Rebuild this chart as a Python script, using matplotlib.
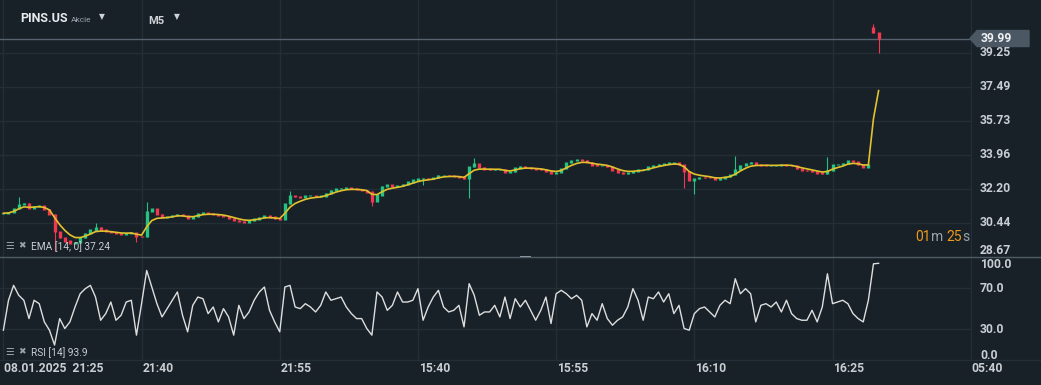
import numpy as np
import pandas as pd
import matplotlib
matplotlib.use("Agg")
import matplotlib.pyplot as plt
from matplotlib.patches import Polygon, Rectangle

W, H = 1041, 385
BG = "#182128"
GRID = "#242e37"
TXT = "#c9ced3"
UP = "#26c281"
DOWN = "#f0384f"
EMA_COL = "#e2c22c"
ORANGE = "#ee9a1c"

plt.rcParams['font.family'] = ['Roboto', 'DejaVu Sans']

# close prices of the candles
closes = [
    30.94, 30.98, 31.18, 31.41, 31.46, 31.21, 31.27, 31.33, 31.15, 30.88,
    29.98, 29.66, 29.50, 29.39, 29.42, 29.67, 29.89, 30.07, 30.21, 30.07,
    30.00, 29.94, 29.89, 29.85, 29.89, 29.93, 29.73, 29.72, 31.03, 31.16,
    30.89, 30.73, 30.75, 30.83, 30.89, 30.80, 30.69, 30.75, 30.92, 30.96,
    30.92, 30.89, 30.84, 30.79, 30.68, 30.58, 30.52, 30.48, 30.54, 30.64,
    30.72, 30.81, 30.74, 30.65, 30.62, 31.43, 31.85, 31.80, 31.77, 31.84,
    31.84, 31.82, 31.83, 31.98, 32.12, 32.20, 32.24, 32.25, 32.21, 32.17,
    32.12, 32.04, 31.55, 31.88, 32.33, 32.41, 32.35, 32.36, 32.43, 32.56,
    32.66, 32.73, 32.74, 32.73, 32.77, 32.90, 32.91, 32.88, 32.86, 32.82,
    32.72, 33.35, 33.50, 33.33, 33.23, 33.20, 33.21, 33.22, 33.05, 33.08,
    33.28, 33.37, 33.33, 33.27, 33.23, 33.19, 33.11, 33.02, 33.05, 33.25,
    33.55, 33.65, 33.70, 33.68, 33.58, 33.44, 33.40, 33.40, 33.35, 33.18,
    33.05, 32.99, 33.03, 33.12, 33.19, 33.19, 33.35, 33.43, 33.47, 33.51,
    33.54, 33.55, 33.45, 33.10, 32.65, 32.72, 32.80, 32.79, 32.77, 32.67,
    32.75, 32.84, 32.93, 33.20, 33.43, 33.53, 33.57, 33.48, 33.44, 33.42,
    33.42, 33.42, 33.44, 33.43, 33.40, 33.25, 33.17, 33.14, 33.08, 33.02,
    32.98, 33.15, 33.45, 33.46, 33.52, 33.67, 33.60, 33.46, 33.32, 33.45,
    40.30, 39.99,
]
gap_at = 170          # first candle after the overnight gap
gap_open = 40.55

# notable wicks
wick_high = {3: 31.77, 18: 30.45, 28: 31.50, 56: 32.10, 92: 33.80,
             143: 33.88, 161: 33.84, 170: 40.77}
wick_low = {10: 29.00, 26: 29.45, 72: 31.30, 82: 32.40, 91: 31.72,
            133: 32.23, 135: 31.96, 171: 39.25}

rsi = [
    29.3, 58.2, 72.6, 63.0, 58.2, 40.5, 58.2, 54.9, 37.3, 29.3,
    14.9, 40.5, 30.9, 37.3, 51.7, 64.5, 69.4, 72.6, 61.3, 38.9,
    45.3, 56.5, 38.9, 43.7, 56.5, 58.2, 24.5, 54.9, 87.0, 71.0,
    54.9, 42.1, 50.1, 58.2, 66.2, 43.7, 27.7, 53.3, 61.3, 59.7,
    45.3, 51.7, 37.3, 50.1, 42.1, 24.5, 53.3, 40.5, 46.9, 58.2,
    66.2, 71.0, 48.5, 37.3, 27.7, 71.0, 72.6, 51.7, 50.1, 54.9,
    51.7, 46.9, 53.3, 66.2, 58.2, 59.7, 61.3, 51.7, 45.3, 40.5,
    40.5, 30.9, 24.5, 66.2, 61.3, 48.5, 53.3, 66.2, 56.5, 56.5,
    58.2, 69.4, 38.9, 51.7, 61.3, 67.8, 51.7, 46.9, 48.5, 53.3,
    32.5, 74.2, 63.0, 43.7, 46.9, 46.9, 53.3, 42.1, 61.3, 40.5,
    59.7, 51.7, 58.2, 48.5, 38.9, 48.5, 61.3, 35.7, 64.5, 67.8,
    64.5, 59.7, 63.0, 58.2, 32.5, 45.3, 38.9, 54.9, 40.5, 34.1,
    38.9, 42.1, 51.7, 69.4, 58.2, 38.9, 61.3, 59.7, 66.2, 56.5,
    64.5, 45.3, 53.3, 30.9, 29.3, 45.3, 50.1, 51.7, 46.9, 42.1,
    53.3, 58.2, 54.9, 79.0, 64.5, 69.4, 64.5, 37.3, 53.3, 54.9,
    51.7, 56.5, 46.9, 58.2, 45.3, 40.5, 38.9, 38.9, 48.5, 37.3,
    51.7, 83.8, 54.9, 56.5, 58.2, 54.9, 45.3, 40.5, 37.3, 58.2,
    93.4, 93.9,
]

price_ticks = [39.25, 37.49, 35.73, 33.96, 32.20, 30.44, 28.67]
rsi_ticks = [100.0, 70.0, 30.0, 0.0]
time_labels = ["08.01.2025  21:25", "21:40", "21:55", "15:40",
               "15:55", "16:10", "16:25", "05:40"]
bars_per_label = 27
ema_text = "EMA [14, 0] 37.24"
rsi_text = "RSI [14] 93.9"

closes = np.array(closes)
idx = np.arange(len(closes))
opens = np.r_[closes[0], closes[:-1]]
opens[gap_at] = gap_open
ema = pd.Series(closes).ewm(alpha=0.35, adjust=False).mean()

fig = plt.figure(figsize=(W / 100, H / 100), dpi=100, facecolor=BG)


def fx(x):
    return x / W


def fy(y):
    return 1 - y / H


ax = fig.add_axes([0, fy(257), fx(972), 257 / H], facecolor=BG)
ax_rsi = fig.add_axes([0, fy(360.5), fx(972), (360.5 - 257) / H], facecolor=BG)

x_lo, x_hi = -0.66, 189.25
grid_x = [bars_per_label * k for k in range(len(time_labels))]

for a in (ax, ax_rsi):
    a.set_xlim(x_lo, x_hi)
    for s in a.spines.values():
        s.set_visible(False)
    a.set_xticks([])
    a.set_yticks([])
    for gx in grid_x:
        a.axvline(gx, color=GRID, lw=1, zorder=0)

ax.set_ylim(28.67, 41.99)
ax_rsi.set_ylim(0, 100)

for v in price_ticks[:-1]:
    ax.axhline(v, color=GRID, lw=1, zorder=0)
for v in rsi_ticks[1:-1]:
    ax_rsi.axhline(v, color=GRID, lw=1, zorder=0)

# candles
hi = np.maximum(opens, closes)
lo = np.minimum(opens, closes)
cols = [UP if c >= o else DOWN for o, c in zip(opens, closes)]
wh = hi.copy()
wl = lo.copy()
for k, v in wick_high.items():
    wh[k] = v
for k, v in wick_low.items():
    wl[k] = v
ax.vlines(idx, wl, wh, colors=cols, lw=0.8, zorder=2)
ax.vlines(idx, lo - 0.03, hi + 0.03, colors=cols, lw=2.4, zorder=2)
ax.plot(idx, ema, color=EMA_COL, lw=1.2, zorder=3)

# last price line
last = closes[-1]
ax.axhline(last, color="#56626d", lw=1, zorder=1)

ax_rsi.plot(np.arange(len(rsi)), rsi, color="#dedede", lw=1.0)

# panel separators
fig.add_artist(plt.Line2D([0, 1], [fy(257), fy(257)], color="#4e5a64", lw=1))
fig.add_artist(plt.Line2D([0, 1], [fy(359.5), fy(359.5)], color=GRID, lw=1))
fig.add_artist(Rectangle((fx(520), fy(258)), fx(11), 2 / H, color="#9aa3ab", lw=0))

# price labels
lab_kw = dict(color=TXT, fontsize=8.7, fontweight="bold", va="center", ha="left")
for v in price_ticks:
    y = 257 - (v - 28.67) * 19.30
    if v == price_ticks[-1]:
        y = 250.5
    fig.text(fx(980), fy(y), f"{v:.2f}", **lab_kw)

# last price tag
y_last = 257 - (last - 28.67) * 19.30
tag = Polygon([(fx(970), fy(y_last)), (fx(977), fy(y_last - 8)), (fx(1029), fy(y_last - 8)),
               (fx(1029), fy(y_last + 8)), (fx(977), fy(y_last + 8))],
              closed=True, color="#4b5864", transform=fig.transFigure)
fig.add_artist(tag)
fig.text(fx(981), fy(y_last), f"{last:.2f}", color="#eef0f2", fontsize=8.7,
         fontweight="bold", va="center", ha="left")

# rsi labels
rsi_pos = {100.0: 264.3, 70.0: 288.3, 30.0: 329.6, 0.0: 355.3}
for v in rsi_ticks:
    fig.text(fx(980), fy(rsi_pos[v]), f"{v:.1f}", **lab_kw)

# time labels
for k, lab in enumerate(time_labels):
    gx = 3.4 + (970.7 - 3.4) * grid_x[k] / grid_x[-1]
    fig.text(fx(gx + 1), fy(368.5), lab, **lab_kw)

# header
fig.text(fx(20), fy(18.5), "PINS.US", color="#e8ebee", fontsize=9,
         fontweight="bold", va="center", ha="left")
fig.text(fx(70.5), fy(19.5), "Akcie", color="#9aa3ab", fontsize=6,
         va="center", ha="left")
fig.text(fx(99), fy(16.5), "\u25bc", color="#d0d4d8", fontsize=5.5,
         va="center", ha="left", family=["DejaVu Sans"])
fig.text(fx(148), fy(20.5), "M5", color="#d0d4d8", fontsize=8,
         fontweight="bold", va="center", ha="left")
fig.text(fx(174), fy(17), "\u25bc", color="#d0d4d8", fontsize=5.5,
         va="center", ha="left", family=["DejaVu Sans"])

# indicator captions
for ycap, cap in ((246.5, ema_text), (353, rsi_text)):
    fig.text(fx(5), fy(ycap - 1), "\u2630", color="#9aa3ab", fontsize=7,
             va="center", ha="left", family=["DejaVu Sans"])
    fig.text(fx(18), fy(ycap - 1), "\u2716", color="#9aa3ab", fontsize=6.5,
             va="center", ha="left", family=["DejaVu Sans"])
    fig.text(fx(31), fy(ycap), cap, color=TXT, fontsize=7.3,
             va="center", ha="left")

# countdown
fig.text(fx(915), fy(237), "01", color=ORANGE, fontsize=10, va="center", ha="left")
fig.text(fx(931), fy(237), "m", color="#9aa3ab", fontsize=10, va="center", ha="left")
fig.text(fx(946), fy(237), "25", color=ORANGE, fontsize=10, va="center", ha="left")
fig.text(fx(962), fy(237), "s", color="#9aa3ab", fontsize=10, va="center", ha="left")

fig.savefig("out.png", dpi=100, facecolor=BG)
